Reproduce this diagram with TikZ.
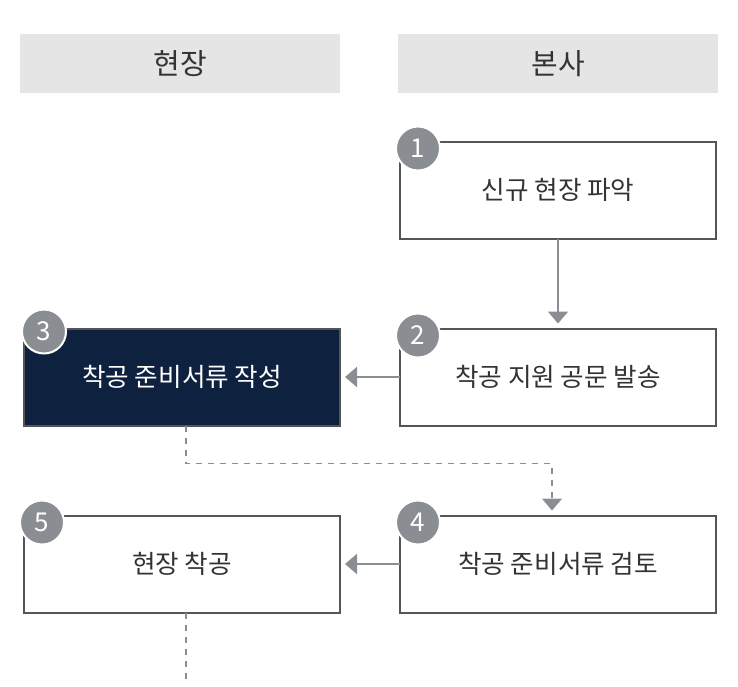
\documentclass[tikz,border=0pt]{standalone}
\usepackage{fontspec}
\setmainfont{Noto Sans CJK KR}
\usepackage{tikz}
\usetikzlibrary{positioning, arrows.meta, calc}
\definecolor{headgray}{HTML}{E5E5E5}
\definecolor{linegray}{HTML}{555555}
\definecolor{badgegray}{HTML}{8A8D91}
\definecolor{textgray}{HTML}{333333}
\definecolor{navy}{HTML}{0E213F}

\begin{document}
\begin{tikzpicture}[
        x=0.5pt, y=-0.5pt,
        node distance=45pt and 30pt,
        header/.style={rectangle, fill=headgray, minimum width=160pt, minimum height=29.5pt, text=textgray, font=\fontsize{14.5}{17}\selectfont},
        stepbox/.style={rectangle, draw=linegray, line width=1pt, fill=white, minimum width=158pt, minimum height=48.5pt, outer sep=0pt, text=textgray, font=\fontsize{12.8}{15}\selectfont},
        darkbox/.style={stepbox, fill=navy, text=white},
        badge/.style={circle, fill=badgegray, draw=white, line width=1pt, minimum size=22pt, inner sep=0pt, text=white, font=\fontsize{13}{15}\selectfont},
        arrow/.style={-{Triangle[width=10pt,length=6pt]}, line width=1pt, badgegray, shorten >=2.5pt},
        flow/.style={arrow, line width=0.75pt, dash pattern=on 3pt off 3pt}
    ]
        \useasboundingbox (0,0) rectangle (738,686);

        % Headers
        \node[header] (site) at (180,63.5) {현장};
        \node[header] (hq) at (558,63.5) {본사};

        % Steps
        \node[stepbox] (find) at (558,190) {신규 현장 파악};
        \node[stepbox, below=of find] (notice) {착공 지원 공문 발송};
        \node[darkbox, left=of notice] (prep) {착공 준비서류 작성};
        \node[stepbox, below=of notice] (review) {착공 준비서류 검토};
        \node[stepbox, left=of review] (start) {현장 착공};

        % Badges
        \node[badge] (b1) at ([shift={(18,7)}]find.north west) {1};
        \node[badge] (b2) at ([shift={(18,7)}]notice.north west) {2};
        \node[badge] (b3) at ([shift={(20,3)}]prep.north west) {3};
        \node[badge] (b4) at ([shift={(18,7)}]review.north west) {4};
        \node[badge] (b5) at ([shift={(18,7)}]start.north west) {5};

        % Arrows
        \draw[arrow] (find) -- (notice);
        \draw[arrow] (notice) -- (prep);
        \draw[arrow] (review) -- (start);
        \draw[flow] ([xshift=2pt]prep.south) -- ++(0,38) -| ([xshift=-3pt]review.north);

        % Tail
        \path ([xshift=2pt]start.south) coordinate (s5);
        \coordinate (tail) at (s5 |- 0,686);
        \draw[flow, -] (s5) -- (tail);
    \end{tikzpicture}
\end{document}
